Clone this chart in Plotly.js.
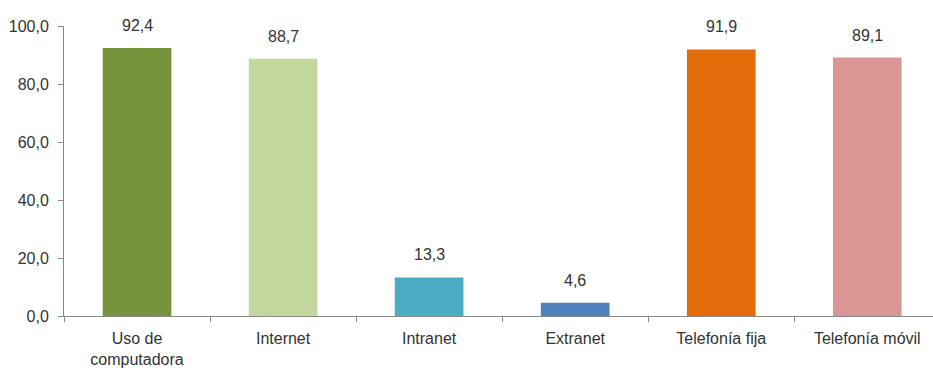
<!DOCTYPE html>
<html><head><meta charset="utf-8">
<script src="https://cdn.plot.ly/plotly-3.0.1.min.js"></script>
<style>html,body{margin:0;padding:0;background:#fff;}</style>
</head><body>
<div id="chart" style="width:933px;height:376px;"></div>
<script>
const categories = ["Uso de<br>computadora", "Internet", "Intranet", "Extranet", "Telefonía fija", "Telefonía móvil"];
const values = [92.4, 88.7, 13.3, 4.6, 91.9, 89.1];
const colors = ["#77933C", "#C3D69B", "#4BACC6", "#4F81BD", "#E46C0A", "#D99694"];
const yTicks = [0, 20, 40, 60, 80, 100];

const fontFam = '"Liberation Sans", Arial, sans-serif';
const fmt = v => v.toFixed(1).replace('.', ',');

const annotations = categories.map((c, i) => ({
  x: c, y: values[i], xref: 'x', yref: 'y',
  text: fmt(values[i]), showarrow: false,
  yanchor: 'bottom', yshift: 12,
  font: {family: fontFam, size: 16, color: '#333'}
}));

Plotly.newPlot('chart', [{
  type: 'bar',
  x: categories,
  y: values,
  marker: {color: colors},
  width: 0.47,
  hoverinfo: 'none'
}], {
  width: 933, height: 376,
  margin: {l: 64, r: 0, t: 26, b: 60},
  separators: ',.',
  paper_bgcolor: '#fff', plot_bgcolor: '#fff',
  showlegend: false,
  annotations: annotations,
  xaxis: {
    type: 'category',
    range: [-0.5, 5.45],
    tickson: 'boundaries',
    ticks: 'outside', ticklen: 5, tickcolor: '#888',
    showline: true, linecolor: '#888', linewidth: 1,
    showgrid: false, zeroline: false,
    ticklabelstandoff: 8,
    tickfont: {family: fontFam, size: 16, color: '#333'}
  },
  yaxis: {
    range: [0, 100],
    tickvals: yTicks,
    tickformat: '.1f',
    ticks: 'outside', ticklen: 5, tickcolor: '#888',
    showline: true, linecolor: '#888', linewidth: 1,
    showgrid: false, zeroline: false,
    ticklabelstandoff: 6,
    tickfont: {family: fontFam, size: 16, color: '#333'}
  }
}, {staticPlot: true});
</script>
</body></html>
